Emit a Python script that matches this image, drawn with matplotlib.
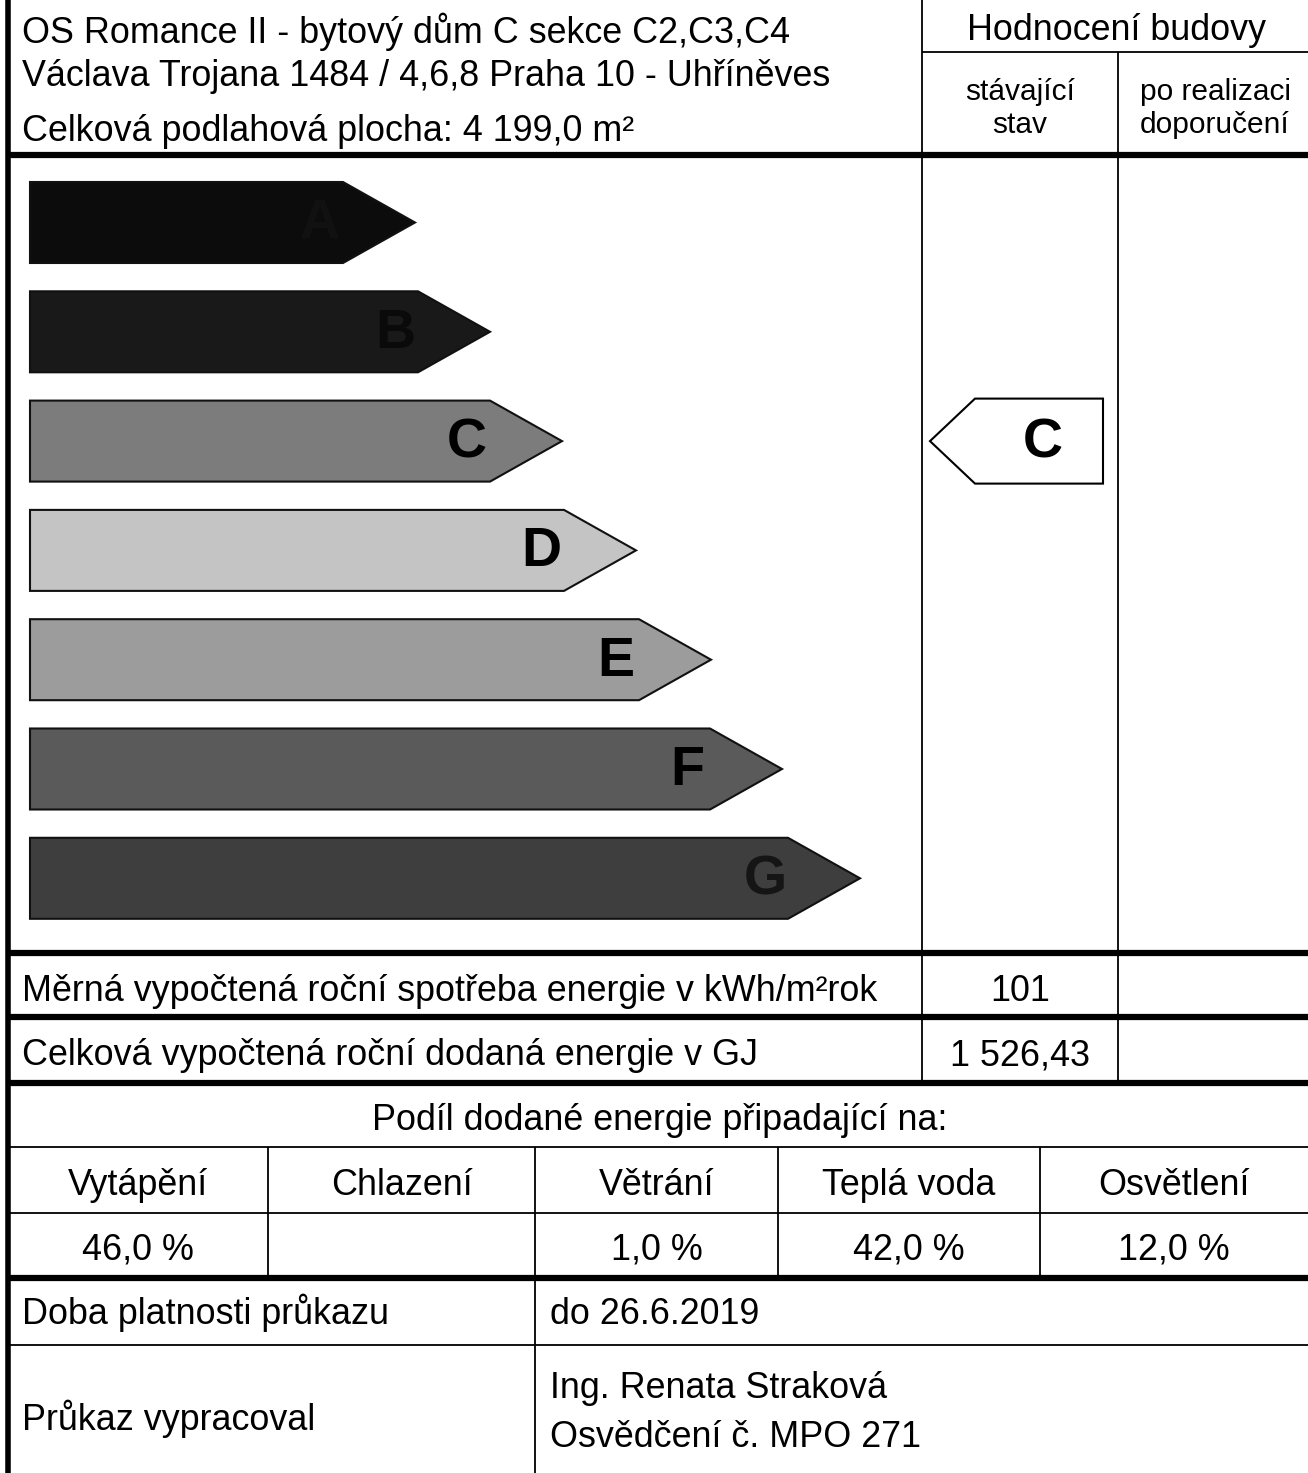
import matplotlib
matplotlib.use("Agg")
import matplotlib.pyplot as plt
from matplotlib.patches import Polygon

plt.rcParams['font.family'] = ['Liberation Sans', 'DejaVu Sans']

# --- data ---
title_lines = ["OS Romance II - bytový dům C sekce C2,C3,C4",
               "Václava Trojana 1484 / 4,6,8 Praha 10 - Uhříněves",
               "Celková podlahová plocha: 4 199,0 m²"]
classes = ['A', 'B', 'C', 'D', 'E', 'F', 'G']
class_len = [385, 460, 532, 606, 681, 752, 830]   # arrow length from left edge
class_col = ['#0c0c0c', '#191919', '#7c7c7c', '#c4c4c4', '#9c9c9c', '#5a5a5a', '#3e3e3e']
letter_col = ['#111111', '#0a0a0a', '#000000', '#000000', '#000000', '#000000', '#151515']
current_class = 'C'
spec_energy = "101"
total_energy = "1 526,43"
share_labels = ["Vytápění", "Chlazení", "Větrání", "Teplá voda", "Osvětlení"]
share_values = ["46,0 %", "", "1,0 %", "42,0 %", "12,0 %"]
valid_to = "do 26.6.2019"
author = ["Ing. Renata Straková", "Osvědčení č. MPO 271"]

W, H = 1308, 1473
fig = plt.figure(figsize=(W / 100, H / 100), dpi=100)
ax = fig.add_axes([0, 0, 1, 1])
ax.set_xlim(0, W)
ax.set_ylim(H, 0)
ax.axis('off')

def hl(y, x0, x1, lw):
    ax.plot([x0, x1], [y, y], color='black', lw=lw, solid_capstyle='butt')

def vl(x, y0, y1, lw):
    ax.plot([x, x], [y0, y1], color='black', lw=lw, solid_capstyle='butt')

# grid lines
vl(8, 0, H, 4)
vl(922, 0, 1083, 1.3)
vl(1118, 52, 1083, 1.3)
hl(52, 922, W, 1.3)
hl(155, 8, W, 4.5)
hl(953, 8, W, 4.5)
hl(1017, 8, W, 4.5)
hl(1083, 8, W, 4.5)
hl(1147, 8, W, 1.3)
hl(1213, 8, W, 1.3)
hl(1278, 8, W, 4.5)
hl(1345, 8, W, 1.3)
col_edges = [8, 268, 535, 778, 1040, W]
for x in col_edges[1:-1]:
    vl(x, 1147, 1278, 1.3)
vl(535, 1278, H, 1.3)

fs = 25.8
def txt(x, y, s, size=fs, ha='left'):
    ax.text(x, y, s, fontsize=size, va='baseline', ha=ha)

# header
txt(22, 43, title_lines[0])
txt(22, 86, title_lines[1])
txt(22, 141, title_lines[2])
txt(1117, 40, "Hodnocení budovy", ha='center')
txt(1020, 100, "stávající", size=21.5, ha='center')
txt(1020, 133, "stav", size=21.5, ha='center')
txt(1215, 100, "po realizaci", size=21.5, ha='center')
txt(1215, 133, "doporučení", size=21.5, ha='center')

# class arrows
x0 = 30
top0, step, hgt, point = 182, 109.3, 81, 72
for i, (c, L, col, lc) in enumerate(zip(classes, class_len, class_col, letter_col)):
    t = top0 + i * step
    b = t + hgt
    tip = x0 + L
    pts = [(x0, t), (tip - point, t), (tip, (t + b) / 2), (tip - point, b), (x0, b)]
    ax.add_patch(Polygon(pts, closed=True, facecolor=col, edgecolor='#111111', lw=1.5))
    ax.text(tip - 95, (t + b) / 2 + 2, c, fontsize=40, fontweight='bold',
            color=lc, ha='center', va='center')

# current rating marker
ci = classes.index(current_class)
t = top0 + ci * step - 2
b = t + 85
pts = [(930, (t + b) / 2), (975, t), (1103, t), (1103, b), (975, b)]
ax.add_patch(Polygon(pts, closed=True, facecolor='white', edgecolor='black', lw=1.5))
ax.text(1043, (t + b) / 2 + 2, current_class, fontsize=40, fontweight='bold',
        ha='center', va='center')

# energy rows
txt(22, 1001, "Měrná vypočtená roční spotřeba energie v kWh/m²rok")
txt(1020, 1001, spec_energy, ha='center')
txt(22, 1065, "Celková vypočtená roční dodaná energie v GJ")
txt(1020, 1065, total_energy, ha='center')

txt(660, 1130, "Podíl dodané energie připadající na:", ha='center')
for i, (lab, val) in enumerate(zip(share_labels, share_values)):
    cx = (col_edges[i] + col_edges[i + 1]) / 2
    txt(cx, 1195, lab, ha='center')
    txt(cx, 1259, val, ha='center')

txt(22, 1324, "Doba platnosti průkazu")
txt(550, 1324, valid_to)
txt(22, 1430, "Průkaz vypracoval")
txt(550, 1398, author[0])
txt(550, 1447, author[1])

fig.savefig("out.png", dpi=100)
